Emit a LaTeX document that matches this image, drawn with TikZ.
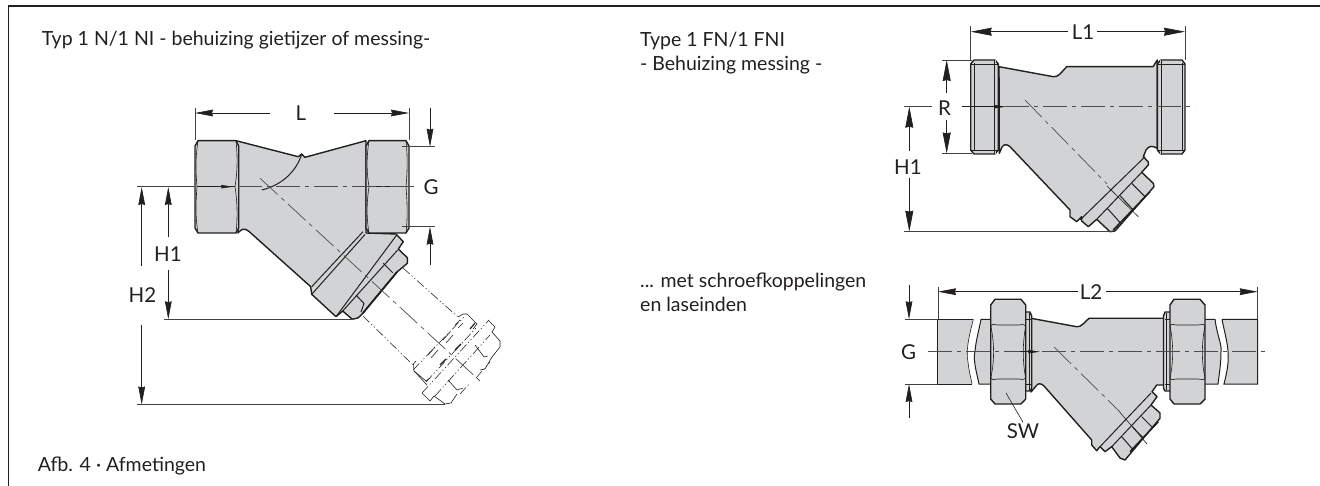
\documentclass[tikz,border=0pt]{standalone}
\usepackage{fontspec}
\setmainfont{Lato}
\usetikzlibrary{arrows.meta}
\definecolor{bodygrey}{HTML}{D1D3D4}
\definecolor{ink}{HTML}{231F20}
\tikzset{
  outline/.style={draw=ink,line width=1.4pt,line join=round},
  solidbody/.style={outline,fill=bodygrey},
  inner/.style={draw=ink,line width=1pt},
  thin/.style={draw=ink,line width=0.6pt},
  axis/.style={draw=ink!80,line width=0.7pt,dash pattern=on 24pt off 5pt on 4pt off 5pt},
  phantom/.style={draw=ink,line width=0.55pt,dash pattern=on 9pt off 2.5pt on 1.2pt off 2.5pt on 1.2pt off 2.5pt},
  phantomsolid/.style={draw=ink,line width=0.6pt},
  dim/.style={draw=ink,line width=0.65pt},
  ext/.style={draw=ink!85,line width=0.65pt},
  dimtip/.style={-{Stealth[length=18pt,width=6.7pt,inset=1pt]}},
  bigtip/.style={-{Stealth[length=21pt,width=8pt,inset=1pt]}},
  smalltip/.style={-{Stealth[length=12pt,width=3.5pt,inset=1pt]}},
  txt/.style={font=\fontsize{19.5}{23}\selectfont,text=ink,inner sep=0pt,anchor=base west},
  lab/.style={font=\fontsize{20.5}{22}\selectfont,text=ink,inner sep=0pt,anchor=center},
}
\begin{document}
\begin{tikzpicture}[x=1pt,y=-1pt]
\useasboundingbox (0,0) rectangle (1320,486);
\draw[draw=ink,line width=1.2pt] (8.3,486) -- (8.3,6) -- (1320,6);

% ---- texts
\node[txt] (t1) at (41.7,46) {Typ 1 N/1 NI - behuizing gietijzer of messing-};
\node[txt] (t2) at (640,47) {Type 1 FN/1 FNI};
\node[txt] (t3) at (640,71) {- Behuizing messing -};
\node[txt] (t4) at (640,288) {... met schroefkoppelingen};
\node[txt] (t5) at (640,312) {en laseinden};
\node[txt] (t6) at (37.7,471.7) {Afb. 4 · Afmetingen};

% ================= LEFT VALVE =================
% phantom cap
\draw[phantom] (403,268) -- (458,317);
\draw[phantom] (363,316) -- (413,365);
\draw[phantom] (413,370) -- (465,316);
\draw[phantom] (426,382) -- (477,327);
\draw[phantom] (422,393) -- (489,320);
\draw[phantom] (435,396) -- (490,335);
\draw[phantomsolid] (427,385) -- (414,371) -- (413.5,364) -- (416,361);
\draw[phantomsolid] (414,371) -- (426,381) -- (430,378);
\draw[phantomsolid] (458,317) -- (463,314) -- (467,314) -- (477,324) -- (473,329);
\draw[phantomsolid] (422,393) -- (430,401) -- (434,396);
\draw[phantomsolid] (434,396) -- (445,404) -- (451,403) -- (457,394);
\draw[phantomsolid] (488,320) -- (495,327) -- (492,332) -- (500,341) -- (500,347) -- (492,357) -- (485,369) -- (480,370);
\draw[phantomsolid] (475,345) -- (484,357) -- (488,356);
\draw[phantomsolid] (448,380) -- (457,390) -- (463,388);
\draw[draw=ink,line width=1.2pt] (440,365) -- (446,359);
\draw[draw=ink,line width=1.2pt] (455,350) -- (461,344);
\draw[draw=ink,line width=1.2pt] (470,329) -- (475,323);
\draw[thin] (428,355) -- (435,347) (431,358) -- (438,350);
\draw[thin] (443,340) -- (450,332) (446,343) -- (453,335);
\draw[thin] (455,325) -- (460,320) (458,328) -- (463,323);
\draw[phantom] (460,394) -- (470,383) (476,378) -- (490,362);

% body
\path[solidbody] (236,140.7) -- (298.3,156.7) -- (301.7,154) -- (305,157.3) -- (366,140.7)
  -- (366,233) -- (396,234) -- (403.3,241.7) -- (398.3,249) -- (407.3,257.7) -- (407.3,263.3)
  -- (397,272) -- (363,313) .. controls (359,318) and (356,319.3) .. (352.3,319.3)
  -- (342.7,311) -- (336,316.7) -- (311.7,294.3) -- (310.7,286.7) -- (249.3,231.7)
  .. controls (246,229) and (243,228) .. (240,231) -- (238,233) -- cycle;
% flange lines
\draw[inner] (311.7,286.7) -- (363,231.7);
\draw[inner] (312,294) -- (365,234.5);
\draw[inner] (336,316.7) -- (396.7,235);
\draw[inner] (342.7,311) -- (397.7,250);
\draw[inner] (356,295) -- (364,303.5) -- (361,312);
\draw[inner] (383.3,263.3) -- (392.7,272.7);
\draw[draw=ink,line width=1.8pt] (363,313) -- (397,272);
% weld curve
\draw[inner] (301.7,154) .. controls (297,170) and (283,185) .. (261.7,190);
% hexagons
\path[solidbody] (198,140.7) -- (236,140.7) -- (238.7,146) -- (238.7,228) -- (236,233) -- (198,233) -- (195,228) -- (195,146) -- cycle;
\path[solidbody] (369,140.7) -- (406,140.7) -- (409,146) -- (409,228) -- (406,233) -- (369,233) -- (366,228) -- (366,146) -- cycle;
\draw[thin] (198,140.7) .. controls (195,160) and (196,175) .. (197,186.7) .. controls (196,200) and (195,215) .. (198,233);
\draw[thin] (236,140.7) .. controls (238,160) and (237,175) .. (235,186.7) .. controls (237,200) and (238,215) .. (236,233);
\draw[thin] (369,140.7) .. controls (366,160) and (367,175) .. (369,186.7) .. controls (367,200) and (366,215) .. (369,233);
\draw[thin] (406,140.7) .. controls (408,160) and (407,175) .. (406,186.7) .. controls (407,200) and (408,215) .. (406,233);
\draw[inner] (197,186.7) -- (235,186.7);
\draw[inner] (369,186.7) -- (406,186.7);
\draw[smalltip,draw=ink,line width=0.6pt] (205,186.7) -- (233,186.7);
% axes
\draw[ext] (137,186.7) -- (195,186.7);
\draw[axis] (238,186.7) -- (417,186.7);
\draw[axis] (260,178.3) -- (480,381);
% dimensions
\draw[ext] (195,108) -- (195,140);
\draw[ext] (409,108) -- (409,140);
\draw[dim,dimtip] (270,113) -- (195,113);
\draw[dim,dimtip] (334,113) -- (409,113);
\node[lab] (dL) at (301,113) {L};
\draw[ext] (401.7,146.7) -- (435,146.7);
\draw[ext] (401.7,226.7) -- (435,226.7);
\draw[dim,dimtip] (430,108) -- (430,146.7);
\draw[dim,dimtip] (430,265) -- (430,226.7);
\node[lab] (dG) at (431,187) {G};
\draw[dim,dimtip] (168.3,237) -- (168.3,187);
\draw[dim,dimtip] (168.3,270) -- (168.3,319.3);
\node[lab] (dH1) at (168,254) {H1};
\draw[dim,dimtip] (141.7,266) -- (141.7,187);
\draw[dim,dimtip] (141.7,325) -- (141.7,404.5);
\node[lab] (dH2) at (142.5,295) {H2};
\draw[ext] (164,319.3) -- (353,319.3);
\draw[ext] (137,404.5) -- (445,404.5);

% ================= TOP RIGHT VALVE =================
\path[solidbody] (999,66.7) -- (1053.3,76.7) .. controls (1056,77) and (1058,76) .. (1060,74)
  -- (1066.7,66.7) -- (1153,66.7) -- (1157.3,60) -- (1157.3,148.3) .. controls (1153,146) and (1149,145) .. (1146,150)
  -- (1143.3,156.7) -- (1148.3,162) -- (1148.3,165) -- (1141.7,172.3) -- (1153.3,183.3) -- (1154,186.7)
  -- (1115,231) -- (1110,231.7) -- (1096.7,219.3) -- (1088.3,226.7) -- (1081.7,221) -- (1081.7,216.7) -- (1076.7,221.7) -- (1070,216.7) -- (1070,210)
  -- (1010,146.7) .. controls (1007,144) and (1004,144) .. (1002,147) -- (999.3,153.3) -- cycle;
\draw[inner] (1080,220) -- (1145,156.7);
\draw[inner] (1096.7,219.3) -- (1141.7,172.3);
\draw[inner] (1107.3,208.3) -- (1120.7,223.3);
\draw[inner] (1119.3,195) -- (1133.3,210);
\draw[inner] (1131.7,183.3) -- (1145,196.7);
\draw[draw=ink,line width=1.6pt] (1113.3,230) -- (1150,191.7);
\path[solidbody] (974,60) -- (995,60) -- (998.3,64) -- (998.3,150) -- (995,154) -- (974,154) -- (970.7,150) -- (970.7,64) -- cycle;
\path[solidbody] (1160.7,60) -- (1182,60) -- (1185,64) -- (1185,150) -- (1182,154) -- (1160.7,154) -- (1157.3,150) -- (1157.3,64) -- cycle;
\draw[draw=ink,line width=0.7pt,double=bodygrey,double distance=0.9pt] (995,60) -- (995,154);
\draw[draw=ink,line width=0.7pt,double=bodygrey,double distance=0.9pt] (1160.7,60) -- (1160.7,154);
\draw[thin] (974,63) -- (974,151) (1182,63) -- (1182,151) (970.7,64) -- (998,64) (970.7,150) -- (998,150) (1157.3,64) -- (1185,64) (1157.3,150) -- (1185,150);
\draw[axis] (1005,106.7) -- (1195,106.7);
\draw[axis] (1025,100) -- (1107,184) ;
\draw[thin] (1107,186) -- (1138.3,216.7);
\draw[dim,smalltip,line width=0.7pt] (961.7,106.7) -- (1006,106.7);
\draw[ext] (904,106.7) -- (931.7,106.7);
\draw[ext] (970.7,26) -- (970.7,60);
\draw[ext] (1185,26) -- (1185,60);
\draw[dim,bigtip] (1068,31.7) -- (970.7,31.7);
\draw[dim,bigtip] (1097,31.7) -- (1185,31.7);
\node[lab] (dL1) at (1083,32) {L1};
\draw[ext] (941.7,60) -- (972,60);
\draw[ext] (941.7,153.5) -- (972,153.5);
\draw[dim,bigtip] (946.7,93) -- (946.7,60);
\draw[dim,bigtip] (946.7,120) -- (946.7,153.5);
\node[lab] (dR) at (944.5,108) {R};
\draw[dim,bigtip] (909.3,151) -- (909.3,106.7);
\draw[dim,bigtip] (909.3,178) -- (909.3,231.7);
\node[lab] (dH1b) at (908,167) {H1};
\draw[ext] (904,231.7) -- (1112,231.7);

% ================= BOTTOM RIGHT VALVE =================
% pipes
\path[solidbody,draw=none] (937.7,319.3) -- (973.3,319.3) .. controls (968,340) and (966,351) .. (968,362) .. controls (969,372) and (971,378) .. (972,384) -- (937.7,384) -- cycle;
\path[solidbody,draw=none] (981,319.3) -- (992,319.3) -- (992,384) -- (979,384) .. controls (976,370) and (973,360) .. (975,351) .. controls (976,340) and (979,330) .. (981,319.3) -- cycle;
\path[solidbody,draw=none] (1204,319.3) -- (1215,319.3) .. controls (1217,335) and (1222,345) .. (1221,351) .. controls (1221,365) and (1219,375) .. (1218,384) -- (1204,384) -- cycle;
\path[solidbody,draw=none] (1222,319.3) -- (1257.7,319.3) -- (1257.7,384) -- (1224,384) .. controls (1227,372) and (1229,362) .. (1228,351) .. controls (1227,340) and (1224,330) .. (1222,319.3) -- cycle;
\draw[inner] (973.3,319.3) -- (937.7,319.3) -- (937.7,384) -- (972,384);
\draw[thin] (973.3,319.3) .. controls (968,340) and (966,351) .. (968,362) .. controls (969,372) and (971,378) .. (972,384);
\draw[inner] (992,319.3) -- (981,319.3) .. controls (979,330) and (976,340) .. (975,351) .. controls (973,360) and (976,370) .. (979,384) -- (992,384);
\draw[inner] (1204,319.3) -- (1215,319.3) .. controls (1217,335) and (1222,345) .. (1221,351) .. controls (1221,365) and (1219,375) .. (1218,384) -- (1204,384);
\draw[inner] (1222,319.3) -- (1257.7,319.3) -- (1257.7,384) -- (1224,384) .. controls (1227,372) and (1229,362) .. (1228,351) .. controls (1227,340) and (1224,330) .. (1222,319.3);
% body
\path[solidbody] (1031,318.3) -- (1076.7,326.7) .. controls (1079,327) and (1081,326) .. (1083,324) -- (1089,318.3) -- (1165,318.3)
  -- (1165,385) -- (1156.7,385) -- (1152,391.7) -- (1157,396.7) -- (1151,405) -- (1160,413) -- (1160,418.3)
  -- (1125,460) -- (1120,458) -- (1111.7,446.7) -- (1105,451.7) -- (1100,446.7) -- (1096.7,450.7) -- (1091.7,445) -- (1091.7,440)
  -- (1044,386) .. controls (1041,383) and (1038,383) .. (1036,386) -- (1031,392) -- cycle;
\draw[inner] (1100,446.7) -- (1151,393);
\draw[inner] (1111.7,446.7) -- (1151,405);
\draw[inner] (1121.7,436.7) -- (1133.3,450);
\draw[inner] (1132.3,426.7) -- (1142.7,437.3);
\draw[inner] (1141.7,416.7) -- (1151.7,426.7);
\draw[draw=ink,line width=1.6pt] (1130,451.7) -- (1158.3,421.7);
% rings
\path[solidbody] (1025,312) -- (1030,312) -- (1031.7,316) -- (1031.7,388) -- (1030,391) -- (1025,391) -- cycle;
\path[solidbody] (1165,312) -- (1171,312) -- (1171,391) -- (1165,391) -- (1163.5,388) -- (1163.5,316) -- cycle;
\draw[thin] (1026,319.3) -- (1031,319.3) (1026,384) -- (1031,384) (1165,319.3) -- (1170,319.3) (1165,384) -- (1170,384);
\draw[thin] (1029,313) -- (1029,390) (1166,313) -- (1166,390);
% nuts
\path[solidbody] (995,299.3) -- (1021,299.3) -- (1025.7,305) -- (1025.7,399) -- (1021,404) -- (995,404) -- (990.7,399) -- (990.7,305) -- cycle;
\path[solidbody] (1174,299.3) -- (1200,299.3) -- (1205,305) -- (1205,399) -- (1200,404) -- (1174,404) -- (1170,399) -- (1170,305) -- cycle;
\draw[thin] (990.7,326) .. controls (993,323) and (995,325) .. (997,325) -- (1019,325) .. controls (1022,325) and (1024,323) .. (1025.7,326);
\draw[thin] (990.7,378) .. controls (993,381) and (995,379) .. (997,379) -- (1019,379) .. controls (1022,379) and (1024,381) .. (1025.7,378);
\draw[thin] (1170,326) .. controls (1172,323) and (1174,325) .. (1176,325) -- (1198,325) .. controls (1201,325) and (1203,323) .. (1205,326);
\draw[thin] (1170,378) .. controls (1172,381) and (1174,379) .. (1176,379) -- (1198,379) .. controls (1201,379) and (1203,381) .. (1205,378);
\draw[thin] (990.7,326) .. controls (994,340) and (995,360) .. (990.7,378);
\draw[thin] (1025.7,326) .. controls (1023,340) and (1022,360) .. (1025.7,378);
\draw[thin] (1170,326) .. controls (1173,340) and (1174,360) .. (1170,378);
\draw[thin] (1205,326) .. controls (1202,340) and (1201,360) .. (1205,378);
% axes and dimensions
\draw[axis] (928,351.7) -- (1268,351.7);
\draw[dim,smalltip,line width=0.7pt] (1020,351.7) -- (1040,351.7);
\draw[axis] (1054,347) -- (1118,410);
\draw[thin] (1118,410) -- (1147,444);
\draw[ext] (938,287) -- (938,319);
\draw[ext] (1257.7,287) -- (1257.7,319);
\draw[dim,dimtip] (1078,291.7) -- (938,291.7);
\draw[dim,dimtip] (1106,291.7) -- (1257.7,291.7);
\node[lab] (dL2) at (1091,291.7) {L2};
\draw[ext] (905,319.3) -- (938,319.3);
\draw[ext] (905,384) -- (938,384);
\draw[dim,dimtip] (909,285) -- (909,319.3);
\draw[dim,dimtip] (909,418) -- (909,384);
\node[lab] (dG2) at (908.5,352) {G};
\node[lab] (dSW) at (1023,431) {SW};
\coordinate (swend) at (1006,393);
\draw[thin] (dSW.north) ++(0,-1) -- (swend);
\end{tikzpicture}
\end{document}
